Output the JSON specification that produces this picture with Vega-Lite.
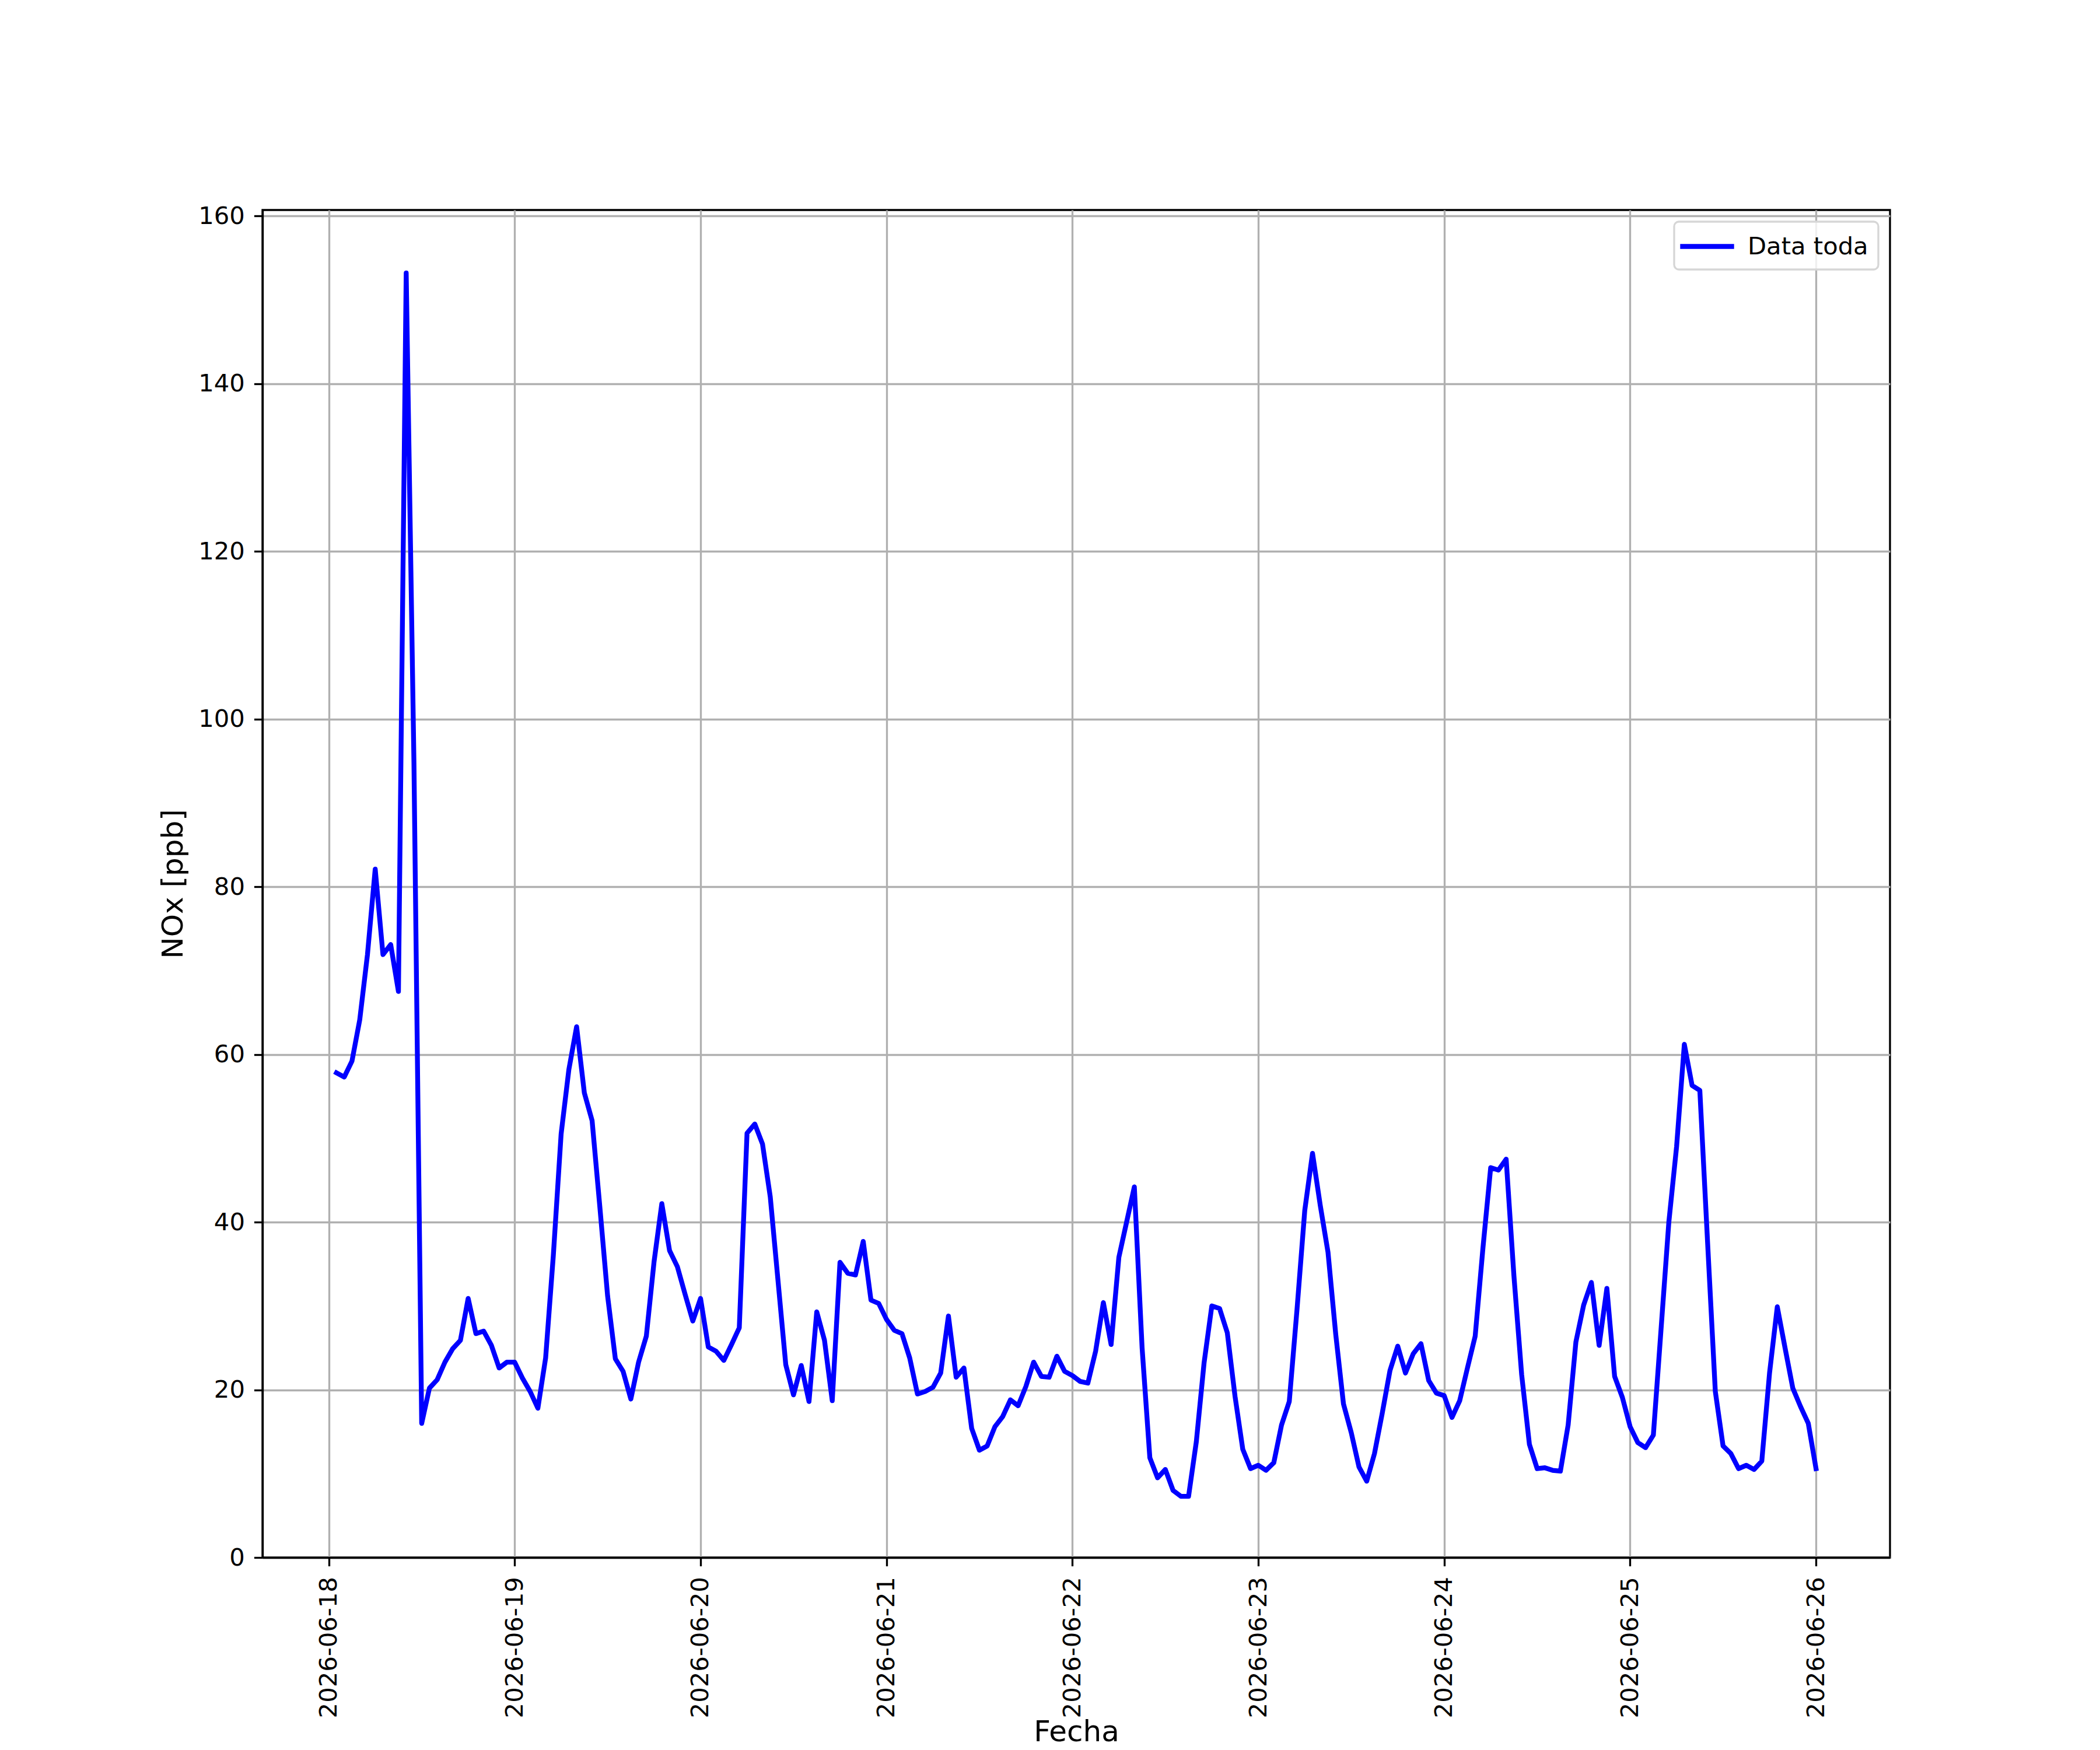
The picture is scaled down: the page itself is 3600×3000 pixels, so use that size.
{
  "$schema": "https://vega.github.io/schema/vega-lite/v6.json",
  "description": "NOx hourly series, 2026-06-18 to 2026-06-26",
  "autosize": {"type": "none"},
  "padding": {"left": 450, "top": 360, "right": 360, "bottom": 330},
  "width": 2790,
  "height": 2310,
  "background": "white",
  "data": {
    "values": [
      {"t": "2026-06-18T01:00", "v": 57.8}, {"t": "2026-06-18T02:00", "v": 57.3}, {"t": "2026-06-18T03:00", "v": 59.2},
      {"t": "2026-06-18T04:00", "v": 64.1}, {"t": "2026-06-18T05:00", "v": 71.9}, {"t": "2026-06-18T06:00", "v": 82.1},
      {"t": "2026-06-18T07:00", "v": 71.9}, {"t": "2026-06-18T08:00", "v": 73.1}, {"t": "2026-06-18T09:00", "v": 67.5},
      {"t": "2026-06-18T10:00", "v": 153.2}, {"t": "2026-06-18T11:00", "v": 94.8}, {"t": "2026-06-18T12:00", "v": 16.0},
      {"t": "2026-06-18T13:00", "v": 20.2}, {"t": "2026-06-18T14:00", "v": 21.2}, {"t": "2026-06-18T15:00", "v": 23.3},
      {"t": "2026-06-18T16:00", "v": 24.9}, {"t": "2026-06-18T17:00", "v": 25.9}, {"t": "2026-06-18T18:00", "v": 30.9},
      {"t": "2026-06-18T19:00", "v": 26.7}, {"t": "2026-06-18T20:00", "v": 27.0}, {"t": "2026-06-18T21:00", "v": 25.3},
      {"t": "2026-06-18T22:00", "v": 22.6}, {"t": "2026-06-18T23:00", "v": 23.3},
      {"t": "2026-06-19T00:00", "v": 23.3}, {"t": "2026-06-19T01:00", "v": 21.4}, {"t": "2026-06-19T02:00", "v": 19.8},
      {"t": "2026-06-19T03:00", "v": 17.8}, {"t": "2026-06-19T04:00", "v": 23.8}, {"t": "2026-06-19T05:00", "v": 36.1},
      {"t": "2026-06-19T06:00", "v": 50.5}, {"t": "2026-06-19T07:00", "v": 58.2}, {"t": "2026-06-19T08:00", "v": 63.3},
      {"t": "2026-06-19T09:00", "v": 55.4}, {"t": "2026-06-19T10:00", "v": 52.1}, {"t": "2026-06-19T11:00", "v": 41.8},
      {"t": "2026-06-19T12:00", "v": 31.2}, {"t": "2026-06-19T13:00", "v": 23.7}, {"t": "2026-06-19T14:00", "v": 22.2},
      {"t": "2026-06-19T15:00", "v": 18.9}, {"t": "2026-06-19T16:00", "v": 23.3}, {"t": "2026-06-19T17:00", "v": 26.4},
      {"t": "2026-06-19T18:00", "v": 35.3}, {"t": "2026-06-19T19:00", "v": 42.2}, {"t": "2026-06-19T20:00", "v": 36.6},
      {"t": "2026-06-19T21:00", "v": 34.7}, {"t": "2026-06-19T22:00", "v": 31.4}, {"t": "2026-06-19T23:00", "v": 28.2},
      {"t": "2026-06-20T00:00", "v": 30.9}, {"t": "2026-06-20T01:00", "v": 25.1}, {"t": "2026-06-20T02:00", "v": 24.6},
      {"t": "2026-06-20T03:00", "v": 23.5}, {"t": "2026-06-20T04:00", "v": 25.4}, {"t": "2026-06-20T05:00", "v": 27.4},
      {"t": "2026-06-20T06:00", "v": 50.6}, {"t": "2026-06-20T07:00", "v": 51.7}, {"t": "2026-06-20T08:00", "v": 49.3},
      {"t": "2026-06-20T09:00", "v": 43.0}, {"t": "2026-06-20T10:00", "v": 33.0}, {"t": "2026-06-20T11:00", "v": 23.0},
      {"t": "2026-06-20T12:00", "v": 19.4}, {"t": "2026-06-20T13:00", "v": 22.9}, {"t": "2026-06-20T14:00", "v": 18.6},
      {"t": "2026-06-20T15:00", "v": 29.3}, {"t": "2026-06-20T16:00", "v": 25.9}, {"t": "2026-06-20T17:00", "v": 18.7},
      {"t": "2026-06-20T18:00", "v": 35.2}, {"t": "2026-06-20T19:00", "v": 33.9}, {"t": "2026-06-20T20:00", "v": 33.7},
      {"t": "2026-06-20T21:00", "v": 37.7}, {"t": "2026-06-20T22:00", "v": 30.7}, {"t": "2026-06-20T23:00", "v": 30.3},
      {"t": "2026-06-21T00:00", "v": 28.4}, {"t": "2026-06-21T01:00", "v": 27.1}, {"t": "2026-06-21T02:00", "v": 26.7},
      {"t": "2026-06-21T03:00", "v": 23.8}, {"t": "2026-06-21T04:00", "v": 19.5}, {"t": "2026-06-21T05:00", "v": 19.8},
      {"t": "2026-06-21T06:00", "v": 20.3}, {"t": "2026-06-21T07:00", "v": 22.0}, {"t": "2026-06-21T08:00", "v": 28.8},
      {"t": "2026-06-21T09:00", "v": 21.5}, {"t": "2026-06-21T10:00", "v": 22.6}, {"t": "2026-06-21T11:00", "v": 15.4},
      {"t": "2026-06-21T12:00", "v": 12.8}, {"t": "2026-06-21T13:00", "v": 13.3}, {"t": "2026-06-21T14:00", "v": 15.6},
      {"t": "2026-06-21T15:00", "v": 16.8}, {"t": "2026-06-21T16:00", "v": 18.8}, {"t": "2026-06-21T17:00", "v": 18.1},
      {"t": "2026-06-21T18:00", "v": 20.4}, {"t": "2026-06-21T19:00", "v": 23.3}, {"t": "2026-06-21T20:00", "v": 21.6},
      {"t": "2026-06-21T21:00", "v": 21.5}, {"t": "2026-06-21T22:00", "v": 24.0}, {"t": "2026-06-21T23:00", "v": 22.2},
      {"t": "2026-06-22T00:00", "v": 21.7}, {"t": "2026-06-22T01:00", "v": 21.0}, {"t": "2026-06-22T02:00", "v": 20.8},
      {"t": "2026-06-22T03:00", "v": 24.6}, {"t": "2026-06-22T04:00", "v": 30.4}, {"t": "2026-06-22T05:00", "v": 25.4},
      {"t": "2026-06-22T06:00", "v": 35.8}, {"t": "2026-06-22T07:00", "v": 40.0}, {"t": "2026-06-22T08:00", "v": 44.2},
      {"t": "2026-06-22T09:00", "v": 25.0}, {"t": "2026-06-22T10:00", "v": 11.9}, {"t": "2026-06-22T11:00", "v": 9.5},
      {"t": "2026-06-22T12:00", "v": 10.5}, {"t": "2026-06-22T13:00", "v": 8.0}, {"t": "2026-06-22T14:00", "v": 7.3},
      {"t": "2026-06-22T15:00", "v": 7.3}, {"t": "2026-06-22T16:00", "v": 13.8}, {"t": "2026-06-22T17:00", "v": 23.2},
      {"t": "2026-06-22T18:00", "v": 30.0}, {"t": "2026-06-22T19:00", "v": 29.7}, {"t": "2026-06-22T20:00", "v": 26.8},
      {"t": "2026-06-22T21:00", "v": 19.2}, {"t": "2026-06-22T22:00", "v": 12.9}, {"t": "2026-06-22T23:00", "v": 10.6},
      {"t": "2026-06-23T00:00", "v": 11.0}, {"t": "2026-06-23T01:00", "v": 10.4}, {"t": "2026-06-23T02:00", "v": 11.3},
      {"t": "2026-06-23T03:00", "v": 15.8}, {"t": "2026-06-23T04:00", "v": 18.6}, {"t": "2026-06-23T05:00", "v": 29.6},
      {"t": "2026-06-23T06:00", "v": 41.4}, {"t": "2026-06-23T07:00", "v": 48.2}, {"t": "2026-06-23T08:00", "v": 42.0},
      {"t": "2026-06-23T09:00", "v": 36.4}, {"t": "2026-06-23T10:00", "v": 26.6}, {"t": "2026-06-23T11:00", "v": 18.3},
      {"t": "2026-06-23T12:00", "v": 14.9}, {"t": "2026-06-23T13:00", "v": 10.8}, {"t": "2026-06-23T14:00", "v": 9.1},
      {"t": "2026-06-23T15:00", "v": 12.4}, {"t": "2026-06-23T16:00", "v": 17.2}, {"t": "2026-06-23T17:00", "v": 22.3},
      {"t": "2026-06-23T18:00", "v": 25.2}, {"t": "2026-06-23T19:00", "v": 22.0}, {"t": "2026-06-23T20:00", "v": 24.3},
      {"t": "2026-06-23T21:00", "v": 25.5}, {"t": "2026-06-23T22:00", "v": 21.1}, {"t": "2026-06-23T23:00", "v": 19.6},
      {"t": "2026-06-24T00:00", "v": 19.3}, {"t": "2026-06-24T01:00", "v": 16.7}, {"t": "2026-06-24T02:00", "v": 18.7},
      {"t": "2026-06-24T03:00", "v": 22.6}, {"t": "2026-06-24T04:00", "v": 26.4}, {"t": "2026-06-24T05:00", "v": 36.9},
      {"t": "2026-06-24T06:00", "v": 46.5}, {"t": "2026-06-24T07:00", "v": 46.2}, {"t": "2026-06-24T08:00", "v": 47.5},
      {"t": "2026-06-24T09:00", "v": 33.6}, {"t": "2026-06-24T10:00", "v": 21.8}, {"t": "2026-06-24T11:00", "v": 13.5},
      {"t": "2026-06-24T12:00", "v": 10.6}, {"t": "2026-06-24T13:00", "v": 10.7}, {"t": "2026-06-24T14:00", "v": 10.4},
      {"t": "2026-06-24T15:00", "v": 10.3}, {"t": "2026-06-24T16:00", "v": 15.8}, {"t": "2026-06-24T17:00", "v": 25.7},
      {"t": "2026-06-24T18:00", "v": 30.1}, {"t": "2026-06-24T19:00", "v": 32.8}, {"t": "2026-06-24T20:00", "v": 25.3},
      {"t": "2026-06-24T21:00", "v": 32.1}, {"t": "2026-06-24T22:00", "v": 21.6}, {"t": "2026-06-24T23:00", "v": 19.1},
      {"t": "2026-06-25T00:00", "v": 15.6}, {"t": "2026-06-25T01:00", "v": 13.7}, {"t": "2026-06-25T02:00", "v": 13.1},
      {"t": "2026-06-25T03:00", "v": 14.6}, {"t": "2026-06-25T04:00", "v": 27.3}, {"t": "2026-06-25T05:00", "v": 40.0},
      {"t": "2026-06-25T06:00", "v": 49.0}, {"t": "2026-06-25T07:00", "v": 61.2}, {"t": "2026-06-25T08:00", "v": 56.3},
      {"t": "2026-06-25T09:00", "v": 55.7}, {"t": "2026-06-25T10:00", "v": 37.6}, {"t": "2026-06-25T11:00", "v": 19.8},
      {"t": "2026-06-25T12:00", "v": 13.3}, {"t": "2026-06-25T13:00", "v": 12.4}, {"t": "2026-06-25T14:00", "v": 10.6},
      {"t": "2026-06-25T15:00", "v": 11.0}, {"t": "2026-06-25T16:00", "v": 10.5}, {"t": "2026-06-25T17:00", "v": 11.5},
      {"t": "2026-06-25T18:00", "v": 22.0}, {"t": "2026-06-25T19:00", "v": 29.9}, {"t": "2026-06-25T20:00", "v": 25.0},
      {"t": "2026-06-25T21:00", "v": 20.2}, {"t": "2026-06-25T22:00", "v": 18.0}, {"t": "2026-06-25T23:00", "v": 16.0},
      {"t": "2026-06-26T00:00", "v": 10.6}
    ]
  },
  "mark": {"type": "line", "strokeWidth": 8.3, "strokeJoin": "round", "strokeCap": "square", "clip": true},
  "encoding": {
    "x": {
      "field": "t",
      "type": "temporal",
      "scale": {
        "domain": [
          {"year": 2026, "month": 6, "date": 17, "hours": 15, "minutes": 27},
          {"year": 2026, "month": 6, "date": 26, "hours": 9, "minutes": 33}
        ],
        "nice": false
      },
      "axis": {
        "title": "Fecha",
        "format": "%Y-%m-%d",
        "tickCount": {"interval": "day", "step": 1},
        "labelAngle": 270,
        "labelAlign": "right",
        "labelBaseline": "middle",
        "labelPadding": 18,
        "labelLimit": 0,
        "labelFlush": false,
        "labelOverlap": false,
        "titleX": 1395,
        "titleY": 314,
        "titleAlign": "center",
        "titleBaseline": "alphabetic"
      }
    },
    "y": {
      "field": "v",
      "type": "quantitative",
      "scale": {"domain": [0, 160.7], "nice": false, "zero": false},
      "axis": {
        "title": "NOx [ppb]",
        "values": [0, 20, 40, 60, 80, 100, 120, 140, 160],
        "labelPadding": 16,
        "labelBaseline": "middle",
        "titleX": -138,
        "titleY": 1155,
        "titleAngle": 270,
        "titleAlign": "center",
        "titleBaseline": "alphabetic"
      }
    },
    "color": {
      "datum": "Data toda",
      "type": "nominal",
      "scale": {"range": ["#0000ff"]},
      "legend": {
        "title": null,
        "orient": "top-right",
        "offset": 20,
        "padding": 17,
        "cornerRadius": 8,
        "strokeColor": "#d6d6d6",
        "fillColor": "rgba(255,255,255,0.8)",
        "symbolType": "M-2.2,0H2.2",
        "symbolSize": 1764,
        "symbolOffset": 14,
        "symbolStrokeWidth": 8.3,
        "labelFont": "DejaVu Sans",
        "labelFontSize": 41.7,
        "labelColor": "black",
        "labelLimit": 0,
        "labelOffset": 44
      }
    }
  },
  "config": {
    "view": {"stroke": "black", "strokeWidth": 3.33},
    "axis": {
      "labelFont": "DejaVu Sans",
      "labelFontSize": 41.7,
      "labelColor": "black",
      "titleFont": "DejaVu Sans",
      "titleFontSize": 50,
      "titleFontWeight": "normal",
      "titleColor": "black",
      "tickColor": "black",
      "tickWidth": 3.33,
      "tickSize": 14.6,
      "gridColor": "#b0b0b0",
      "gridWidth": 3.33,
      "gridOpacity": 1,
      "domainColor": "black",
      "domainWidth": 3.33
    },
    "legend": {"strokeWidth": 3.3}
  }
}
